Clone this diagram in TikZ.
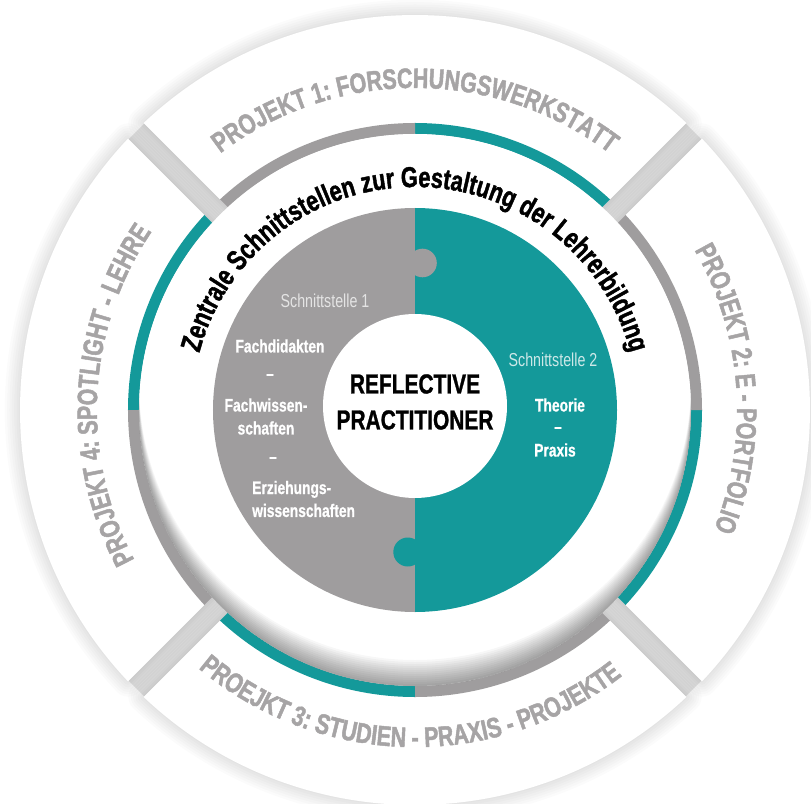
\documentclass[tikz,border=0pt]{standalone}
\usepackage{fontspec}
\setmainfont{Liberation Sans}[FakeStretch=0.76]
\usetikzlibrary{decorations.text}
\definecolor{petrol}{HTML}{14999A}
\definecolor{stone}{HTML}{9F9D9E}
\definecolor{projgray}{HTML}{A6A4A5}
\definecolor{gapgray}{HTML}{E6E6E6}
\definecolor{headgray}{HTML}{E4E4E4}
\definecolor{headpetrol}{HTML}{CDE8E8}
\newcommand\projfont{\bfseries\fontsize{24}{24}\selectfont\addfontfeature{FakeBold=1.6}}
\newcommand\bandfont{\bfseries\fontsize{24.5}{24.5}\selectfont\addfontfeature{FakeBold=1.4}}
\tikzset{
  seglabel/.style={decorate,decoration={text along path,text align=center,
     text color=projgray,text={|\projfont|#1}}},
  bandlabel/.style={decorate,decoration={text along path,text align=center,
     text color=black,text={|\bandfont|#1}}},
  pzhead/.style={font=\fontsize{16}{18}\selectfont,text=#1,inner sep=0pt},
  pzword/.style={font=\bfseries\fontsize{15.5}{19.6}\selectfont\addfontfeature{FakeBold=0.8},
     text=white,align=center,inner sep=0pt},
  pzcore/.style={font=\bfseries\fontsize{23.5}{30.7}\selectfont\addfontfeature{FakeBold=1},
     align=center,inner sep=0pt}
}
\begin{document}
\begin{tikzpicture}[x=0.3mm,y=0.3mm]
  \useasboundingbox (-415,-393) rectangle (396,410);
  % outer ring: four project segments
  \fill[gapgray] (0,0) circle (394);
  \foreach \c in {0,90,180,270}{
    \foreach \w in {26,22,...,2}
      \draw[black,opacity=0.017,line width=\w pt,line join=round]
        ({\c-43.4}:395) arc[start angle=\c-43.4,end angle=\c+43.4,radius=395]
        -- ({\c+42.7}:276) arc[start angle=\c+42.7,end angle=\c-42.7,radius=276] -- cycle;
  }
  \foreach \c in {0,90,180,270}{
    \fill[white] ({\c-43.4}:395) arc[start angle=\c-43.4,end angle=\c+43.4,radius=395]
      -- ({\c+42.7}:276) arc[start angle=\c+42.7,end angle=\c-42.7,radius=276] -- cycle;
    \fill[petrol] ({\c-42.7}:276) arc[start angle=\c-42.7,end angle=\c,radius=276]
      -- (\c:287) arc[start angle=\c,end angle=\c-42.8,radius=287] -- cycle;
    \fill[stone] (\c:276) arc[start angle=\c,end angle=\c+42.7,radius=276]
      -- ({\c+42.8}:287) arc[start angle=\c+42.8,end angle=\c,radius=287] -- cycle;
  }
  \path[seglabel={PROJEKT 1: FORSCHUNGSWERKSTATT}]
    (160:322) arc[start angle=160,end angle=20,radius=322];
  \path[seglabel={PROJEKT 2: E - PORTFOLIO}]
    (74:322) arc[start angle=74,end angle=-66,radius=322];
  \path[seglabel={PROEJKT 3: STUDIEN - PRAXIS - PROJEKTE}]
    (199:337) arc[start angle=199,end angle=339,radius=337];
  \path[seglabel={PROJEKT 4: SPOTLIGHT - LEHRE}]
    (247:318) arc[start angle=247,end angle=107,radius=318];
  % inner field with soft inset shadow
  \fill[white] (0,0) circle (276);
  \begin{scope}
    \clip (0,0) circle (276);
    \foreach \d in {2,4,...,26}
      \fill[black,opacity=0.03,even odd rule] (0,0) circle (277) (0,\d) circle (276);
  \end{scope}
  \path[bandlabel={Zentrale Schnittstellen zur Gestaltung der Lehrerbildung}]
    (185:223) arc[start angle=185,end angle=-5,radius=223];
  % puzzle
  \fill[stone] (0,202) arc[start angle=90,end angle=270,radius=202] -- cycle;
  \fill[petrol] (0,-202) arc[start angle=-90,end angle=90,radius=202] -- cycle;
  \fill[stone] (7.5,147) circle (14.3);
  \fill[petrol] (-7.2,-142) circle (14.5);
  \fill[white] (0,4) circle (92);
  \node[pzcore] (rp) at (0,8) {REFLECTIVE\\PRACTITIONER};
  \node[pzhead=headgray] (s1) at (-90,109) {Schnittstelle 1};
  \node[pzword] (fd) at (-135,64) {Fachdidakten};
  \node[pzword] (dashA) at (-145,33) {--};
  \node[pzword] (fw) at (-149,-6.5) {Fachwissen-\\schaften};
  \node[pzword] (dashB) at (-142,-50) {--};
  \node[pzword,align=left,anchor=west] (ez) at (-163,-89) {Erziehungs-\\wissenschaften};
  \node[pzhead=headpetrol] (s2) at (138,50) {Schnittstelle 2};
  \node[pzword] (th) at (145,5) {Theorie};
  \node[pzword] (dashC) at (143,-20) {--};
  \node[pzword] (px) at (140,-40) {Praxis};
\end{tikzpicture}
\end{document}
